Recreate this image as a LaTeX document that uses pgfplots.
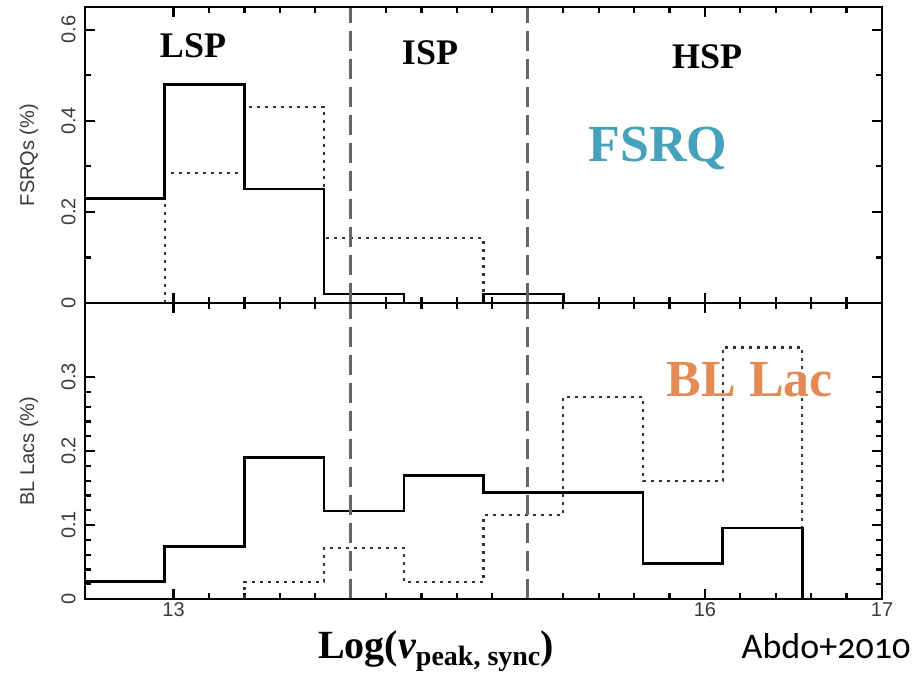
\documentclass[border=0pt]{standalone}
\usepackage{pgfplots}
\pgfplotsset{compat=1.18}
\usepackage{fontspec}
\setmainfont{Liberation Serif}
\newfontfamily\sansf{Liberation Sans}
\newfontfamily\calf[Numbers=OldStyle]{Carlito}
\definecolor{fsrqc}{HTML}{45A1BC}
\definecolor{blc}{HTML}{E38B55}
\definecolor{tickc}{HTML}{3A3A3A}
\pgfplotsset{
  panel/.style={
    scale only axis, width=797pt, height=296pt, xmin=12.5, xmax=17,
    xtick={13,14,15,16,17}, minor x tick num=4,
    xtick pos=both, ytick pos=both,
    tick align=inside, major tick length=10pt, minor tick length=6pt,
    every tick/.style={line width=2.4pt, black},
    every minor tick/.style={line width=2.2pt, black},
    every major tick/.style={line width=2.4pt, black},
    every outer x axis line/.append style={line width=2.4pt, black},
    every outer y axis line/.append style={line width=2.4pt, black},
    ticklabel style={font=\sansf\fontsize{20}{20}\selectfont, text=tickc},
    /pgf/number format/assume math mode=true,
    yticklabel style={xshift=-6pt, rotate=90, anchor=south},
    every axis y label/.style={at={(axis description cs:-0.0703,0.5)}, rotate=90, anchor=center, font=\sansf\fontsize{20}{20}\selectfont, text=tickc},
    clip=false,
  },
  solidh/.style={const plot, black, line width=2.6pt, no marks},
  doth/.style={const plot, black!80, line width=2.2pt, dash pattern=on 3pt off 5pt, no marks},
  vdash/.style={black!60, line width=2.8pt, dash pattern=on 20pt off 8pt, no marks},
}
\begin{document}
\begin{tikzpicture}[x=1pt,y=1pt]
\useasboundingbox (0,0) rectangle (917,672);
% top panel: FSRQs
\begin{axis}[panel, at={(85pt,369pt)}, anchor=south west,
  ymin=0, ymax=0.65, ytick={0,0.2,0.4,0.6}, minor y tick num=1,
  xticklabels={}, ylabel={FSRQs (\%)}]
\addplot[doth] coordinates {(12.5,0) (12.95,0.285) (13.4,0.43) (13.85,0.143) (14.3,0.143) (14.75,0) (15.2,0) (15.65,0) (16.1,0) (16.55,0) (17,0)};
\addplot[solidh] coordinates {(12.5,0.23) (12.95,0.48) (13.4,0.25) (13.85,0.02) (14.3,0) (14.75,0.02) (15.2,0) (15.65,0) (16.1,0) (16.55,0) (17,0)};
\addplot[vdash] coordinates {(14,0) (14,0.65)};
\addplot[vdash] coordinates {(15,0) (15,0.65)};
\draw[line width=2.4pt, black] (rel axis cs:0,0) rectangle (rel axis cs:1,1);
\end{axis}
% bottom panel: BL Lacs
\begin{axis}[panel, at={(85pt,73pt)}, anchor=south west,
  ymin=0, ymax=0.4, ytick={0,0.1,0.2,0.3}, minor y tick num=4,
  xticklabels={13,,,16,17}, ylabel={BL Lacs (\%)}]
\addplot[doth] coordinates {(12.5,0) (12.95,0) (13.4,0.023) (13.85,0.069) (14.3,0.023) (14.75,0.114) (15.2,0.273) (15.65,0.159) (16.1,0.340) (16.55,0) (17,0)};
\addplot[solidh] coordinates {(12.5,0.024) (12.95,0.071) (13.4,0.191) (13.85,0.119) (14.3,0.167) (14.75,0.144) (15.2,0.144) (15.65,0.048) (16.1,0.096) (16.55,0) (17,0)};
\addplot[vdash] coordinates {(14,0) (14,0.4)};
\addplot[vdash] coordinates {(15,0) (15,0.4)};
\draw[line width=2.4pt, black] (rel axis cs:0,0) rectangle (rel axis cs:1,1);
\end{axis}
% annotations
\node[anchor=base, inner sep=0] at (193,614) {\fontsize{36}{40}\selectfont\bfseries LSP};
\node[anchor=base, inner sep=0] at (430,607) {\fontsize{36}{40}\selectfont\bfseries ISP};
\node[anchor=base, inner sep=0] at (707,603) {\fontsize{36}{40}\selectfont\bfseries HSP};
\node[anchor=base, inner sep=0, text=fsrqc] at (658,510) {\fontsize{52}{56}\selectfont\bfseries FSRQ};
\node[anchor=base, inner sep=0, text=blc] at (750,275) {\fontsize{52}{56}\selectfont\bfseries BL Lac};
\node[anchor=base, inner sep=0] at (436,14) {\fontsize{40}{44}\selectfont\bfseries Log({\itshape ν}\raisebox{-7pt}{\fontsize{28}{30}\selectfont peak, sync})};
\node[anchor=base, inner sep=0] at (826,14) {\calf\fontsize{36}{40}\selectfont Abdo+2010};
\end{tikzpicture}
\end{document}
